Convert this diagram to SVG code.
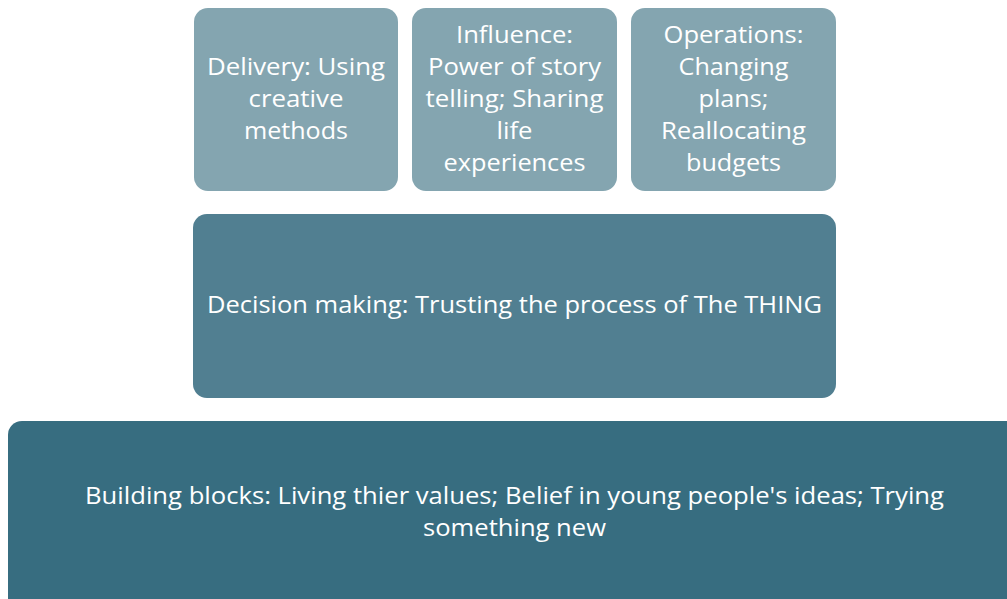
<svg xmlns="http://www.w3.org/2000/svg" width="1007" height="599" viewBox="0 0 1007 599">
<style>
.t{font-family:"Open Sans","Liberation Sans",sans-serif;font-size:24px;fill:#ffffff;text-anchor:middle}
.l1{fill:#84A5B0}
.l2{fill:#517F91}
.l3{fill:#376D80}
</style>
<rect width="1007" height="599" fill="#ffffff"/>
<g id="delivery">
<rect class="l1" x="194" y="8" width="204" height="183" rx="14"/>
<text class="t" x="296" y="75" textLength="178" lengthAdjust="spacingAndGlyphs">Delivery: Using</text>
<text class="t" x="296" y="107" textLength="95" lengthAdjust="spacingAndGlyphs">creative</text>
<text class="t" x="296" y="139" textLength="104" lengthAdjust="spacingAndGlyphs">methods</text>
</g>
<g id="influence">
<rect class="l1" x="412" y="8" width="205" height="183" rx="14"/>
<text class="t" x="514.5" y="43" textLength="117" lengthAdjust="spacingAndGlyphs">Influence:</text>
<text class="t" x="514.5" y="75" textLength="173" lengthAdjust="spacingAndGlyphs">Power of story</text>
<text class="t" x="514.5" y="107" textLength="178" lengthAdjust="spacingAndGlyphs">telling; Sharing</text>
<text class="t" x="514.5" y="139" textLength="36" lengthAdjust="spacingAndGlyphs">life</text>
<text class="t" x="514.5" y="171" textLength="142" lengthAdjust="spacingAndGlyphs">experiences</text>
</g>
<g id="operations">
<rect class="l1" x="631" y="8" width="205" height="183" rx="14"/>
<text class="t" x="733.5" y="43" textLength="140" lengthAdjust="spacingAndGlyphs">Operations:</text>
<text class="t" x="733.5" y="75" textLength="110" lengthAdjust="spacingAndGlyphs">Changing</text>
<text class="t" x="733.5" y="107" textLength="70" lengthAdjust="spacingAndGlyphs">plans;</text>
<text class="t" x="733.5" y="139" textLength="145" lengthAdjust="spacingAndGlyphs">Reallocating</text>
<text class="t" x="733.5" y="171" textLength="95" lengthAdjust="spacingAndGlyphs">budgets</text>
</g>
<g id="decision">
<rect class="l2" x="193" y="214" width="643" height="184" rx="14"/>
<text class="t" x="514.5" y="313" textLength="615" lengthAdjust="spacingAndGlyphs">Decision making: Trusting the process of The THING</text>
</g>
<g id="building">
<rect class="l3" x="8" y="421" width="1020" height="200" rx="14"/>
<text class="t" x="514.5" y="504" textLength="859" lengthAdjust="spacingAndGlyphs">Building blocks: Living thier values; Belief in young people's ideas; Trying</text>
<text class="t" x="514.5" y="536" textLength="183" lengthAdjust="spacingAndGlyphs">something new</text>
</g>
<g id="connectors"></g>
</svg>
